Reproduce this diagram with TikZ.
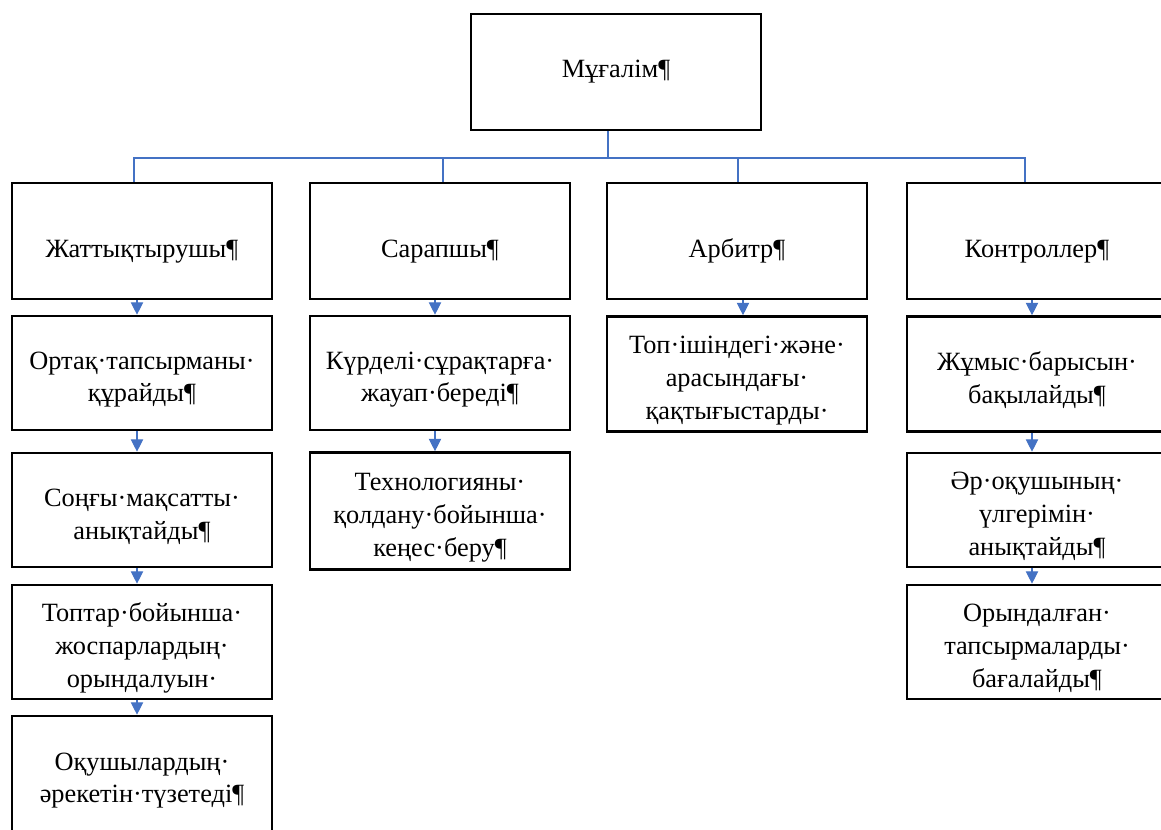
\documentclass[tikz,border=0pt]{standalone}
\usepackage{fontspec}
\setmainfont{Liberation Serif}
\usetikzlibrary{arrows.meta,positioning,calc}
\definecolor{linkBlue}{RGB}{68,114,196}
\newcommand{\gapTop}[1]{\rule{0pt}{#1}} % pushes the text a bit below the middle
\tikzset{
    roleBox/.style={
        ,   draw=black
        ,   line width=1.5pt
        ,   align=center
        ,   minimum width=5.2cm
        ,   minimum height=#1
        ,   inner sep=2pt
    },
    roleBox/.default=2.28cm,
    linkLine/.style={
        ,   draw=linkBlue
        ,   line width=0.6pt
    },
    flowArrow/.style={
        ,   linkLine
        ,   -{Triangle[width=7pt,length=7pt,fill=linkBlue]}
    }
}

\begin{document}
\begin{tikzpicture}[x=0.02cm, y=-0.02cm, font={\fontsize{15pt}{18.7pt}\selectfont}]
	\useasboundingbox (0,0) rectangle (1161,830);
	\clip (0,0) rectangle (1161,830);

	\node[roleBox=2.32cm, minimum width=5.8cm] (T) at (616,72) {Мұғалім¶};

	% first row of roles
	\node[roleBox=2.32cm] (R1) at (142,241) {\gapTop{23pt}Жаттықтырушы¶\rule[-4pt]{0pt}{0pt}};
	\node[roleBox=2.32cm] (R2) at (440,241) {\gapTop{23pt}Сарапшы¶\rule[-4pt]{0pt}{0pt}};
	\node[roleBox=2.32cm] (R3) at (737,241) {\gapTop{23pt}Арбитр¶\rule[-4pt]{0pt}{0pt}};
	\node[roleBox=2.32cm] (R4) at (1037,241) {\gapTop{23pt}Контроллер¶\rule[-4pt]{0pt}{0pt}};

	\coordinate (J) at (608,158);
	\draw[linkLine] (T.south -| J) -- (J);
	\foreach \r/\s in {R1/-8,R2/3,R3/1,R4/-12}{
	\draw[linkLine] (J) -| ([xshift=\s*0.02cm]\r.north);
	}

	% duties under each role
	\node[roleBox] (A1) at (142,373) {\gapTop{17.5pt}Ортақ·тапсырманы·\\құрайды¶};
	\node[roleBox] (A2) at (142,510) {\gapTop{17.5pt}Соңғы·мақсатты·\\анықтайды¶};
	\node[roleBox] (A3) at (142,642) {\gapTop{17.5pt}Топтар·бойынша·\\жоспарлардың·\\орындалуын·};
	\node[roleBox=2.32cm] (A4) at (142,774) {\gapTop{17.5pt}Оқушылардың·\\әрекетін·түзетеді¶};

	\node[roleBox] (B1) at (440,373) {\gapTop{17.5pt}Күрделі·сұрақтарға·\\жауап·береді¶};
	\node[roleBox=2.34cm] (B2) at (440,511) {\gapTop{17.5pt}Технологияны·\\қолдану·бойынша·\\кеңес·беру¶};

	\node[roleBox=2.3cm] (C1) at (737,374) {\gapTop{17.5pt}Топ·ішіндегі·және·\\арасындағы·\\қақтығыстарды·};

	\node[roleBox=2.3cm] (D1) at (1037,374) {\gapTop{17.5pt}Жұмыс·барысын·\\бақылайды¶};
	\node[roleBox] (D2) at (1037,510) {\gapTop{17.5pt}Әр·оқушының·\\үлгерімін·\\анықтайды¶};
	\node[roleBox] (D3) at (1037,642) {\gapTop{17.5pt}Орындалған·\\тапсырмаларды·\\бағалайды¶};

	% arrows down each column
	\foreach \a/\b/\s in {R1/A1/-5,A1/A2/-5,A2/A3/-5,A3/A4/-5,R2/B1/-5,B1/B2/-5,R3/C1/6,R4/D1/-5,D1/D2/-5,D2/D3/-5}{
	\draw[flowArrow] ([xshift=\s*0.02cm]\a.south) -- ([xshift=\s*0.02cm]\b.north);
	}
\end{tikzpicture}
\end{document}
